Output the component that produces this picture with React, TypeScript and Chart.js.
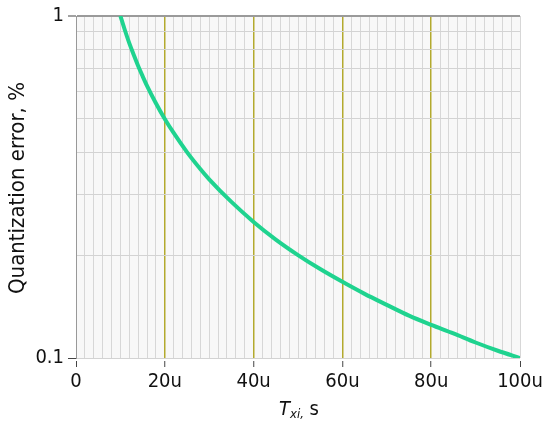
import React, { useEffect, useRef } from "react";
import { Chart, registerables } from "chart.js";

Chart.register(...registerables);

// Integration period T_xi in micro-seconds (u) and quantization error in %
const periods = [10, 11, 12, 13, 14, 15, 16, 18, 20, 22, 25, 28, 30, 35, 40, 45, 50, 55, 60, 65, 70, 75, 80, 85, 90, 95, 100];
const errors = [1.0, 0.91, 0.833, 0.77, 0.714, 0.667, 0.625, 0.556, 0.5, 0.455, 0.4, 0.357, 0.333, 0.286, 0.25, 0.222, 0.2, 0.182, 0.167, 0.154, 0.143, 0.133, 0.125, 0.118, 0.111, 0.105, 0.1];

const xGridValues = [0, 2, 4, 6, 8, 10, 12, 14, 16, 18, 20, 22, 24, 26, 28, 30, 32, 34, 36, 38, 40, 42, 44, 46, 48, 50, 52, 54, 56, 58, 60, 62, 64, 66, 68, 70, 72, 74, 76, 78, 80, 82, 84, 86, 88, 90, 92, 94, 96, 98, 100];
const xLabels = ["0", "20u", "40u", "60u", "80u", "100u"];
const xLabelValues = [0, 20, 40, 60, 80, 100];
const xMajor = [20, 40, 60, 80];
const yGridValues = [0.1, 0.2, 0.3, 0.4, 0.5, 0.6, 0.7, 0.8, 0.9, 1];
const yLabels = ["0.1", "1"];
const yLabelValues = [0.1, 1];

const FONT = '"DejaVu Sans Condensed", "DejaVu Sans", sans-serif';

const near = (a: number, b: number) => Math.abs(a - b) < 1e-9;

const xGridColors = xGridValues.map((v) => (xMajor.includes(v) ? "#b3aa2e" : "#d7d7d7"));
const xGridWidths = xGridValues.map((v) => (xMajor.includes(v) ? 1.5 : 1));
const xTickColors = xGridValues.map((v) => (xLabelValues.includes(v) ? "#444" : "rgba(0,0,0,0)"));
const yGridColors = yGridValues.map((v) => (near(v, 1) ? "#9a9a9a" : "#d3d3d3"));
const yGridWidths = yGridValues.map((v) => (near(v, 1) ? 2 : 1));
const yTickColors = yGridValues.map((v) => (yLabelValues.some((l) => near(l, v)) ? "#444" : "rgba(0,0,0,0)"));

export default function App() {
  const ref = useRef<HTMLCanvasElement | null>(null);

  useEffect(() => {
    document.body.style.margin = "0";
    const canvas = ref.current;
    if (!canvas) return;

    const bgPlugin = {
      id: "plotBg",
      beforeDraw(chart: any) {
        const { ctx, chartArea } = chart;
        ctx.save();
        ctx.fillStyle = "#f8f8f8";
        ctx.fillRect(chartArea.left, chartArea.top, chartArea.right - chartArea.left, chartArea.bottom - chartArea.top);
        ctx.restore();
      },
    };

    const titlePlugin = {
      id: "axisTitles",
      afterDraw(chart: any) {
        const ctx = chart.ctx as CanvasRenderingContext2D;
        ctx.save();
        ctx.fillStyle = "#111";
        ctx.translate(18, 188);
        ctx.rotate(-Math.PI / 2);
        ctx.textAlign = "center";
        ctx.textBaseline = "middle";
        ctx.font = `22px ${FONT}`;
        ctx.fillText("Quantization error, %", 0, 0);
        ctx.restore();

        ctx.save();
        ctx.fillStyle = "#111";
        ctx.textAlign = "left";
        ctx.textBaseline = "alphabetic";
        const big = `italic 20px ${FONT}`;
        const small = `italic 13px ${FONT}`;
        const norm = `20px ${FONT}`;
        ctx.font = big;
        const wT = ctx.measureText("T").width;
        ctx.font = small;
        const wSub = ctx.measureText("xi,").width;
        ctx.font = norm;
        const wS = ctx.measureText(" s").width;
        const total = wT + wSub + wS;
        let x = 299 - total / 2;
        const base = 415;
        ctx.font = big;
        ctx.fillText("T", x, base);
        x += wT;
        ctx.font = small;
        ctx.fillText("xi,", x, base + 3);
        x += wSub;
        ctx.font = norm;
        ctx.fillText(" s", x, base);
        ctx.restore();
      },
    };

    const chart = new Chart(canvas, {
      type: "line",
      data: {
        datasets: [
          {
            data: periods.map((p, i) => ({ x: p, y: errors[i] })),
            borderColor: "#1fd38f",
            borderWidth: 4,
            pointRadius: 0,
            cubicInterpolationMode: "monotone",
            fill: false,
          },
        ],
      },
      options: {
        animation: false,
        responsive: false,
        layout: { padding: { left: 0, right: 30, top: 13, bottom: 0 } },
        plugins: { legend: { display: false }, tooltip: { enabled: false } },
        scales: {
          x: {
            type: "linear",
            min: 0,
            max: 100,
            afterBuildTicks: (s: any) => {
              s.ticks = xGridValues.map((v) => ({ value: v }));
            },
            afterFit: (s: any) => {
              s.height = 72;
            },
            border: { display: false },
            grid: {
              color: xGridColors,
              lineWidth: xGridWidths,
              tickLength: 9,
              tickWidth: 1,
              tickColor: xTickColors,
              tickBorderDash: [0, 3, 6, 30],
            },
            ticks: {
              autoSkip: false,
              maxRotation: 0,
              padding: 3,
              color: "#111",
              font: { family: FONT, size: 20 },
              callback: (v: any) => {
                const n = Number(v);
                const k = xLabelValues.findIndex((l) => near(l, n));
                return k >= 0 ? xLabels[k] : "";
              },
            },
          },
          y: {
            type: "logarithmic",
            min: 0.1,
            max: 1,
            afterBuildTicks: (s: any) => {
              s.ticks = yGridValues.map((v) => ({ value: v }));
            },
            afterFit: (s: any) => {
              s.width = 76;
            },
            border: { display: true, color: "#999", width: 1 },
            grid: {
              color: yGridColors,
              lineWidth: yGridWidths,
              tickLength: 8,
              tickWidth: 1,
              tickColor: yTickColors,
            },
            ticks: {
              autoSkip: false,
              padding: 4,
              color: "#111",
              font: { family: FONT, size: 20 },
              callback: (v: any) => {
                const n = Number(v);
                const k = yLabelValues.findIndex((l) => near(l, n));
                return k >= 0 ? yLabels[k] : "";
              },
            },
          },
        },
      },
      plugins: [bgPlugin, titlePlugin],
    } as any);

    return () => chart.destroy();
  }, []);

  return (
    <div style={{ width: 550, height: 430, background: "#fff" }}>
      <canvas ref={ref} width={550} height={430} />
    </div>
  );
}
